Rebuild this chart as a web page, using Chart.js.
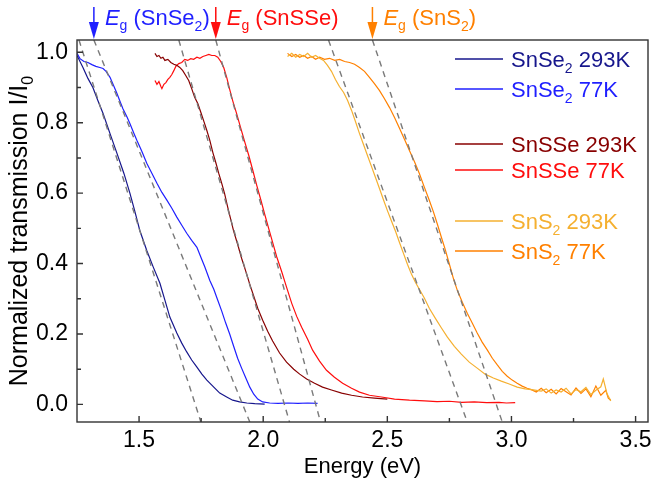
<!DOCTYPE html>
<html>
<head>
<meta charset="utf-8">
<script src="https://cdn.jsdelivr.net/npm/chart.js@4.4.0/dist/chart.umd.min.js"></script>
<style>
  html, body { margin: 0; padding: 0; background: #fff; }
</style>
</head>
<body>
<canvas id="chart" width="653" height="481"></canvas>
<script>
// photon energy (eV) / normalized transmission, one pair of arrays per sample and temperature
const snse2RtE = [1.250, 1.274, 1.294, 1.314, 1.334, 1.355, 1.383, 1.411, 1.439, 1.463, 1.483, 1.503, 1.531, 1.556, 1.584, 1.604, 1.624, 1.652, 1.672, 1.692, 1.712, 1.733, 1.753, 1.773, 1.797, 1.825, 1.853, 1.877, 1.905, 1.934, 1.966, 2.006];
const snse2RtT = [0.991, 0.957, 0.926, 0.900, 0.863, 0.826, 0.769, 0.713, 0.656, 0.600, 0.548, 0.494, 0.437, 0.392, 0.344, 0.296, 0.248, 0.203, 0.174, 0.149, 0.126, 0.106, 0.086, 0.069, 0.052, 0.032, 0.021, 0.012, 0.007, 0.004, 0.002, 0.001];

const snse2LtE = [1.250, 1.262, 1.278, 1.294, 1.310, 1.326, 1.342, 1.355, 1.367, 1.383, 1.399, 1.411, 1.423, 1.435, 1.451, 1.463, 1.479, 1.491, 1.511, 1.531, 1.552, 1.572, 1.592, 1.612, 1.632, 1.652, 1.672, 1.692, 1.712, 1.733, 1.749, 1.765, 1.785, 1.801, 1.817, 1.833, 1.849, 1.865, 1.881, 1.897, 1.913, 1.930, 1.946, 1.962, 1.978, 1.998, 2.026, 2.060, 2.100, 2.140, 2.180, 2.219];
const snse2LtT = [0.997, 0.982, 0.974, 0.971, 0.965, 0.960, 0.957, 0.954, 0.946, 0.929, 0.903, 0.883, 0.861, 0.840, 0.817, 0.798, 0.770, 0.750, 0.719, 0.685, 0.656, 0.628, 0.602, 0.580, 0.557, 0.532, 0.509, 0.486, 0.466, 0.446, 0.418, 0.390, 0.352, 0.327, 0.296, 0.265, 0.231, 0.200, 0.165, 0.131, 0.103, 0.075, 0.049, 0.029, 0.015, 0.007, 0.004, 0.003, 0.004, 0.003, 0.004, 0.003];

const snsseRtE = [1.564, 1.572, 1.580, 1.588, 1.596, 1.604, 1.616, 1.628, 1.640, 1.652, 1.664, 1.676, 1.688, 1.700, 1.712, 1.724, 1.737, 1.749, 1.761, 1.773, 1.785, 1.797, 1.809, 1.821, 1.833, 1.845, 1.857, 1.869, 1.881, 1.897, 1.913, 1.930, 1.946, 1.962, 1.978, 1.998, 2.018, 2.038, 2.066, 2.094, 2.123, 2.147, 2.175, 2.207, 2.239, 2.275, 2.316, 2.356, 2.400, 2.448, 2.500];
const snsseRtT = [0.997, 0.988, 0.991, 0.983, 0.986, 0.977, 0.980, 0.971, 0.966, 0.963, 0.957, 0.948, 0.934, 0.920, 0.897, 0.872, 0.854, 0.829, 0.804, 0.778, 0.750, 0.716, 0.687, 0.656, 0.628, 0.597, 0.560, 0.526, 0.492, 0.455, 0.415, 0.378, 0.341, 0.307, 0.273, 0.239, 0.208, 0.180, 0.146, 0.120, 0.100, 0.086, 0.072, 0.060, 0.049, 0.041, 0.032, 0.026, 0.021, 0.018, 0.015];

const snsseLtE = [1.564, 1.572, 1.580, 1.588, 1.592, 1.600, 1.608, 1.616, 1.624, 1.632, 1.640, 1.648, 1.660, 1.672, 1.684, 1.696, 1.708, 1.720, 1.733, 1.745, 1.757, 1.769, 1.781, 1.793, 1.805, 1.817, 1.829, 1.841, 1.853, 1.865, 1.877, 1.893, 1.909, 1.925, 1.942, 1.958, 1.974, 1.990, 2.006, 2.022, 2.038, 2.054, 2.074, 2.094, 2.115, 2.135, 2.155, 2.179, 2.199, 2.227, 2.255, 2.287, 2.320, 2.356, 2.388, 2.428, 2.476, 2.529, 2.589, 2.650, 2.700, 2.750, 2.800, 2.850, 2.900, 2.950, 2.980, 3.015];
const snsseLtT = [0.920, 0.909, 0.917, 0.903, 0.897, 0.909, 0.914, 0.923, 0.929, 0.937, 0.948, 0.960, 0.968, 0.971, 0.980, 0.977, 0.982, 0.980, 0.986, 0.983, 0.988, 0.991, 0.994, 0.991, 0.991, 0.986, 0.974, 0.957, 0.929, 0.895, 0.863, 0.826, 0.786, 0.747, 0.707, 0.665, 0.622, 0.582, 0.540, 0.500, 0.460, 0.420, 0.378, 0.333, 0.287, 0.250, 0.219, 0.185, 0.154, 0.123, 0.097, 0.077, 0.060, 0.046, 0.035, 0.026, 0.021, 0.015, 0.012, 0.010, 0.008, 0.009, 0.006, 0.007, 0.005, 0.006, 0.004, 0.005];

const sns2RtE = [2.098, 2.115, 2.131, 2.147, 2.163, 2.179, 2.195, 2.211, 2.227, 2.243, 2.259, 2.275, 2.291, 2.307, 2.324, 2.340, 2.356, 2.372, 2.388, 2.404, 2.420, 2.436, 2.452, 2.468, 2.484, 2.500, 2.517, 2.533, 2.549, 2.565, 2.581, 2.597, 2.613, 2.629, 2.649, 2.669, 2.693, 2.718, 2.742, 2.770, 2.798, 2.830, 2.862, 2.894, 2.927, 2.959, 2.991, 3.023, 3.055, 3.088, 3.120, 3.140, 3.160, 3.180, 3.200, 3.220, 3.240, 3.260, 3.280, 3.300, 3.320, 3.340, 3.360, 3.370, 3.385, 3.400];
const sns2RtT = [0.988, 0.997, 0.986, 0.994, 0.988, 0.997, 0.986, 0.991, 0.983, 0.977, 0.963, 0.946, 0.923, 0.903, 0.886, 0.863, 0.835, 0.803, 0.769, 0.738, 0.707, 0.676, 0.645, 0.614, 0.582, 0.551, 0.520, 0.492, 0.460, 0.429, 0.398, 0.370, 0.347, 0.327, 0.302, 0.273, 0.245, 0.217, 0.191, 0.165, 0.143, 0.120, 0.103, 0.086, 0.075, 0.066, 0.058, 0.049, 0.044, 0.041, 0.038, 0.044, 0.032, 0.041, 0.035, 0.046, 0.030, 0.042, 0.036, 0.048, 0.028, 0.040, 0.050, 0.072, 0.030, 0.010];

const sns2LtE = [2.098, 2.115, 2.131, 2.147, 2.163, 2.179, 2.195, 2.211, 2.227, 2.247, 2.267, 2.288, 2.308, 2.328, 2.348, 2.368, 2.388, 2.408, 2.428, 2.448, 2.468, 2.488, 2.509, 2.529, 2.549, 2.569, 2.589, 2.609, 2.629, 2.649, 2.669, 2.686, 2.702, 2.718, 2.734, 2.750, 2.766, 2.782, 2.802, 2.822, 2.842, 2.862, 2.882, 2.903, 2.923, 2.943, 2.963, 2.983, 3.003, 3.023, 3.043, 3.063, 3.080, 3.100, 3.120, 3.140, 3.160, 3.180, 3.200, 3.220, 3.240, 3.260, 3.280, 3.300, 3.320, 3.340, 3.360, 3.380, 3.390, 3.400];
const sns2LtT = [0.997, 0.988, 0.994, 0.986, 0.991, 0.983, 0.988, 0.980, 0.986, 0.980, 0.983, 0.977, 0.980, 0.974, 0.971, 0.966, 0.957, 0.946, 0.929, 0.911, 0.892, 0.869, 0.843, 0.815, 0.784, 0.753, 0.721, 0.690, 0.656, 0.617, 0.580, 0.546, 0.511, 0.474, 0.438, 0.398, 0.358, 0.324, 0.290, 0.259, 0.231, 0.203, 0.177, 0.154, 0.131, 0.112, 0.094, 0.080, 0.069, 0.060, 0.052, 0.046, 0.042, 0.035, 0.046, 0.033, 0.043, 0.030, 0.045, 0.036, 0.027, 0.047, 0.031, 0.044, 0.022, 0.052, 0.026, 0.040, 0.018, 0.012];

const seriesNames = ['SnSe_2 293K', 'SnSe_2 77K', 'SnSSe 293K', 'SnSSe 77K', 'SnS_2 293K', 'SnS_2 77K'];
const seriesColors = ['#16168c', '#1f1fff', '#880000', '#ff0d0d', '#f5b030', '#ff8000'];

// linear fits of the absorption edges: energy where each line leaves the top / bottom of the frame
const tangentTopE = [1.258, 1.318, 1.660, 1.809, 2.263, 2.440];
const tangentBottomE = [1.749, 1.946, 2.106, 2.231, 2.822, 2.963];
const tangentT = [1.035, -0.05];

// band-gap markers sit where the 77K fits leave the top of the frame
const egNames = ['SnSe_2', 'SnSSe', 'SnS_2'];
const egColors = ['#1f1fff', '#ff0d0d', '#ff8000'];
const egE = [tangentTopE[1], tangentTopE[3], tangentTopE[5]];

const xTicks = [1.5, 2.0, 2.5, 3.0, 3.5];
const xMinorTicks = [1.75, 2.25, 2.75, 3.25];
const yTicks = [0.0, 0.2, 0.4, 0.6, 0.8, 1.0];
const yMinorTicks = [0.1, 0.3, 0.5, 0.7, 0.9];

const FONT = 'Liberation Sans, Arial, sans-serif';

const curves = [
  [snse2RtE, snse2RtT], [snse2LtE, snse2LtT],
  [snsseRtE, snsseRtT], [snsseLtE, snsseLtT],
  [sns2RtE, sns2RtT], [sns2LtE, sns2LtT]
];

const datasets = [];
tangentTopE.forEach((e0, i) => {
  datasets.push({
    data: [{ x: e0, y: tangentT[0] }, { x: tangentBottomE[i], y: tangentT[1] }],
    borderColor: '#7a7a7a',
    borderWidth: 1.4,
    borderDash: [6, 5],
    pointRadius: 0,
    order: 0
  });
});
curves.forEach(([es, ts], i) => {
  datasets.push({
    label: seriesNames[i],
    data: es.map((e, k) => ({ x: e, y: ts[k] })),
    borderColor: seriesColors[i],
    borderWidth: 1.2,
    pointRadius: 0,
    order: 1
  });
});

// text with "_x" marking a one-character subscript
function richWidth(ctx, str, size) {
  let w = 0;
  for (let i = 0; i < str.length; i++) {
    if (str[i] === '_') {
      ctx.font = Math.round(size * 0.65) + 'px ' + FONT;
      w += ctx.measureText(str[++i]).width;
    } else {
      ctx.font = size + 'px ' + FONT;
      w += ctx.measureText(str[i]).width;
    }
  }
  return w;
}
function richText(ctx, str, x, y, size, color) {
  ctx.fillStyle = color;
  ctx.textAlign = 'left';
  ctx.textBaseline = 'alphabetic';
  for (let i = 0; i < str.length; i++) {
    if (str[i] === '_') {
      ctx.font = Math.round(size * 0.65) + 'px ' + FONT;
      const c = str[++i];
      ctx.fillText(c, x, y + size * 0.25);
      x += ctx.measureText(c).width;
    } else {
      ctx.font = size + 'px ' + FONT;
      ctx.fillText(str[i], x, y);
      x += ctx.measureText(str[i]).width;
    }
  }
  return x;
}

const decorations = {
  id: 'decorations',
  afterDatasetsDraw(chart) {
    const { ctx, chartArea: a, scales: { x, y } } = chart;
    ctx.save();
    ctx.strokeStyle = '#333';
    ctx.lineWidth = 1.4;
    ctx.strokeRect(a.left, a.top, a.right - a.left, a.bottom - a.top);
    ctx.beginPath();
    xTicks.forEach(v => { const px = x.getPixelForValue(v); ctx.moveTo(px, a.bottom); ctx.lineTo(px, a.bottom - 6); });
    xMinorTicks.forEach(v => { const px = x.getPixelForValue(v); ctx.moveTo(px, a.bottom); ctx.lineTo(px, a.bottom - 4); });
    yTicks.forEach(v => { const py = y.getPixelForValue(v); ctx.moveTo(a.left, py); ctx.lineTo(a.left + 6, py); });
    yMinorTicks.forEach(v => { const py = y.getPixelForValue(v); ctx.moveTo(a.left, py); ctx.lineTo(a.left + 4, py); });
    ctx.stroke();
    ctx.restore();
  },
  afterDraw(chart) {
    const { ctx, chartArea: a, scales: { x } } = chart;
    ctx.save();

    // axis titles
    ctx.font = '22px ' + FONT;
    ctx.fillStyle = '#000';
    ctx.textAlign = 'center';
    ctx.fillText('Energy (eV)', (a.left + a.right) / 2, 473);
    ctx.save();
    ctx.translate(27, (a.top + a.bottom) / 2);
    ctx.rotate(-Math.PI / 2);
    const ytitle = 'Normalized transmission I/I_0';
    richText(ctx, ytitle, -richWidth(ctx, ytitle, 25) / 2, 0, 25, '#000');
    ctx.restore();

    // band-gap arrows and labels above the frame
    egE.forEach((e, i) => {
      const px = x.getPixelForValue(e);
      const col = egColors[i];
      ctx.strokeStyle = col;
      ctx.fillStyle = col;
      ctx.lineWidth = 1.5;
      ctx.beginPath();
      ctx.moveTo(px, 7);
      ctx.lineTo(px, 26);
      ctx.stroke();
      ctx.beginPath();
      ctx.moveTo(px - 5, 22);
      ctx.lineTo(px + 5, 22);
      ctx.lineTo(px, a.top - 1);
      ctx.closePath();
      ctx.fill();
      let tx = px + 11;
      ctx.font = 'italic 22px ' + FONT;
      ctx.textAlign = 'left';
      ctx.fillText('E', tx, 25);
      tx += ctx.measureText('E').width;
      ctx.font = '14px ' + FONT;
      ctx.fillText('g', tx, 30);
      tx += ctx.measureText('g').width;
      richText(ctx, ' (' + egNames[i] + ')', tx, 25, 22, col);
    });

    // legend
    const rowY = [59, 89, 144, 170, 221, 251];
    const lx = a.right - 193;
    seriesNames.forEach((name, i) => {
      const ry = rowY[i];
      ctx.strokeStyle = seriesColors[i];
      ctx.lineWidth = 1.5;
      ctx.beginPath();
      ctx.moveTo(lx, ry);
      ctx.lineTo(lx + 48, ry);
      ctx.stroke();
      richText(ctx, name, lx + 56, ry + 8, 22, seriesColors[i]);
    });
    ctx.restore();
  }
};

new Chart(document.getElementById('chart'), {
  type: 'line',
  data: { datasets },
  plugins: [decorations],
  options: {
    responsive: false,
    animation: false,
    devicePixelRatio: 1,
    parsing: false,
    layout: { padding: { left: 0, right: 5, top: 40, bottom: 0 } },
    plugins: { legend: { display: false }, tooltip: { enabled: false } },
    elements: { line: { tension: 0 } },
    scales: {
      x: {
        type: 'linear',
        min: 1.25,
        max: 3.55,
        grid: { display: false, drawTicks: false },
        border: { display: false },
        ticks: { color: '#000', font: { size: 23, family: FONT }, padding: 5, callback: v => v.toFixed(1) },
        afterBuildTicks: s => { s.ticks = xTicks.map(v => ({ value: v })); },
        afterFit: s => { s.height = 59; s.paddingLeft = 0; s.paddingRight = 0; }
      },
      y: {
        type: 'linear',
        min: -0.05,
        max: 1.035,
        grid: { display: false, drawTicks: false },
        border: { display: false },
        ticks: { color: '#000', font: { size: 23, family: FONT }, padding: 9, callback: v => v.toFixed(1) },
        afterBuildTicks: s => { s.ticks = yTicks.map(v => ({ value: v })); },
        afterFit: s => { s.width = 77; s.paddingTop = 0; s.paddingBottom = 0; }
      }
    }
  }
});
</script>
</body>
</html>
